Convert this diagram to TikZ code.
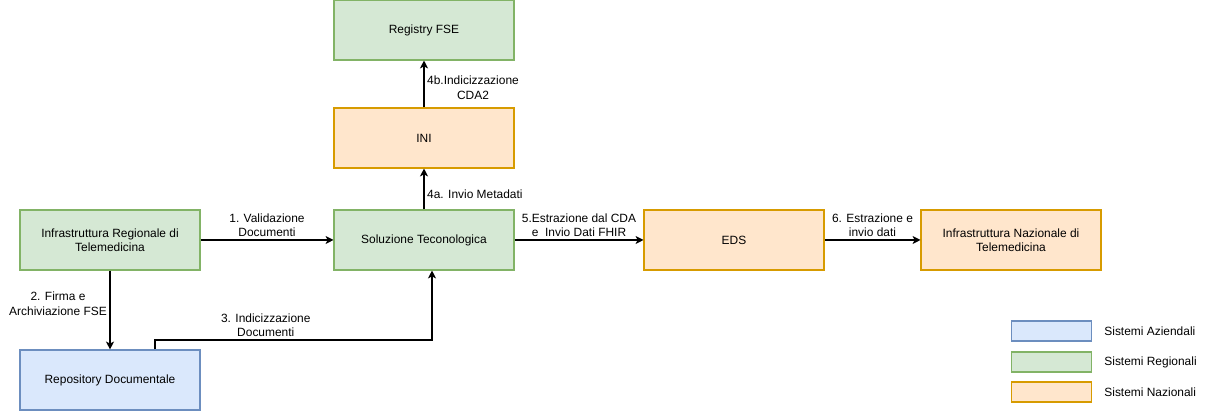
\documentclass[tikz,border=0pt]{standalone}
\usepackage{fontspec}
\setmainfont{Liberation Sans}
\usetikzlibrary{arrows.meta}

\definecolor{regfill}{HTML}{D5E8D4}
\definecolor{regline}{HTML}{82B366}
\definecolor{azfill}{HTML}{DAE8FC}
\definecolor{azline}{HTML}{6C8EBF}
\definecolor{nazfill}{HTML}{FFE6CC}
\definecolor{nazline}{HTML}{D79B00}

\begin{document}
\begin{tikzpicture}[x=0.02cm, y=-0.02cm, line width=0.6pt,
    font=\fontsize{6.8}{8.2}\selectfont,
    box/.style={draw, minimum width=3.6cm, minimum height=1.2cm, inner sep=0pt, align=center},
    regbox/.style={box, fill=regfill, draw=regline},
    azbox/.style={box, fill=azfill, draw=azline},
    nazbox/.style={box, fill=nazfill, draw=nazline},
    keybox/.style={draw, minimum width=1.6cm, minimum height=0.4cm, inner sep=0pt},
    lbl/.style={align=center, inner sep=1.5pt},
    arr/.style={-{Stealth[length=4.5pt, width=4.5pt, inset=1.2pt]}}]
  \useasboundingbox (0,0) rectangle (1208,411);

  % systems
  \node[regbox] (irt) at (110,240) {Infrastruttura Regionale di\\Telemedicina};
  \node[azbox]  (repo) at (110,380) {Repository Documentale};
  \node[regbox] (sol) at (424,240) {Soluzione Teconologica};
  \node[nazbox] (ini) at (424,138) {INI};
  \node[regbox] (reg) at (424,30) {Registry FSE};
  \node[nazbox] (eds) at (734,240) {EDS};
  \node[nazbox] (inaz) at (1011,240) {Infrastruttura Nazionale di\\Telemedicina};

  % flows
  \draw[arr] (irt) -- node[lbl, above] {1. Validazione\\Documenti} (sol);
  \draw[arr] (irt) -- node[lbl, left, pos=0.42] {2. Firma e\\Archiviazione FSE} (repo);
  \coordinate (c3) at (155,340);
  \draw[arr] (repo.north -| c3) -- (c3) -| node[lbl, above, pos=0.2] {3. Indicizzazione\\Documenti}
    ([xshift=0.16cm]sol.south);
  \draw[arr] (sol) -- node[lbl, right, pos=0.38] {4a. Invio Metadati} (ini);
  \draw[arr] (ini) -- node[lbl, right, pos=0.42] {4b.Indicizzazione\\CDA2} (reg);
  \draw[arr] (sol) -- node[lbl, above] {5.Estrazione dal CDA\\e\ \ Invio Dati FHIR} (eds);
  \draw[arr] (eds) -- node[lbl, above] {6. Estrazione e\\invio dati} (inaz);

  % legend
  \node[keybox, fill=azfill, draw=azline] (kaz) at (1051.5,331) {};
  \node[keybox, fill=regfill, draw=regline] (kreg) at (1051.5,362) {};
  \node[keybox, fill=nazfill, draw=nazline] (knaz) at (1051.5,392) {};
  \node[anchor=west] (taz) at (1098,331) {Sistemi Aziendali};
  \node[anchor=west] (treg) at (1098,362) {Sistemi Regionali};
  \node[anchor=west] (tnaz) at (1098,392) {Sistemi Nazionali};
\end{tikzpicture}
\end{document}
